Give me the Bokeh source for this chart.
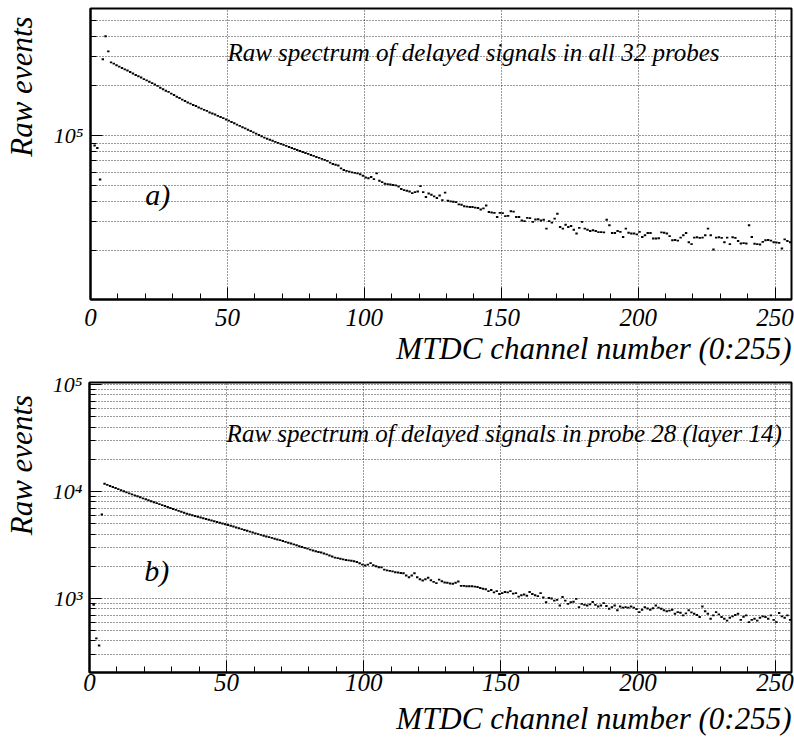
import math
from bokeh.plotting import figure
from bokeh.layouts import column, row
from bokeh.models import Range1d, FixedTicker, SingleIntervalTicker, Label, Title, ColumnDataSource
from bokeh.core.properties import value
from bokeh.embed import file_html
from bokeh.resources import INLINE

# ---------------- data ----------------
# panel a): all 32 probes, counts in thousands, channels 1..255
events_a_k = [
    87, 84, 54, 290, 400, 324, 278,                                   # 1-7
    273, 267, 262, 257, 252, 248, 243, 238, 233, 229, 225, 220, 216, 212, 208,  # 8-22
    204, 200, 195, 191, 187, 184, 179.5, 176, 172, 169, 165, 162, 158.5,        # 23-35
    156, 153, 151, 148, 145.5, 143, 141, 138, 136, 134, 131.5, 129.5, 127.4, 125, 123,  # 36-50
    120.8, 118.6, 116.4, 114.3, 112.2, 110.4, 108.4, 106.4, 104.5, 102.6, 100.7, 98.9, 97.1, 95.5,  # 51-64
    94.2, 92.9, 91.4, 90.2, 88.9, 87.7, 86.5, 85.1, 83.9, 82.8, 81.7, 80.5, 79.4, 78.3, 77.3, 76.2,
    75.2, 74.1, 73.1, 72.1, 71.1, 70.1,                                  # 65-86
    68.4, 67.1, 66.4, 65.8, 63.1, 61.7, 61.0, 60.3, 59.7, 59.3, 58.9, 58.2, 56.9, 55.6,  # 87-100
    55.0, 56.0, 54.3, 58.9, 53.1, 52.1, 50.9, 50.7, 50.4, 50.1, 49.8, 49.0, 47.3, 46.6, 46.2, 45.7, 44.7, 45.3, 45.7, 49.3,  # 101-120
    45.3, 42.3, 44.4, 43.7, 42.7, 41.7, 43.2, 40.4, 45.0, 40.2, 39.8, 39.6, 39.4, 38.2, 38.0, 37.2, 37.0, 36.8, 36.8, 36.5,  # 121-140
    36.3, 35.5, 36.1, 37.6, 34.3, 34.1, 33.9, 32.0, 33.9, 33.8, 32.4, 32.5, 34.7, 34.5, 32.0, 32.0, 30.5, 30.2, 31.6, 31.5,  # 141-160
    29.9, 30.9, 31.0, 30.5, 30.8, 27.2, 30.2, 29.6, 31.3, 33.5, 27.8, 27.2, 28.7, 27.8, 28.2, 26.8, 25.4, 27.5, 29.9, 27.2,  # 161-180
    26.8, 26.3, 26.6, 26.3, 25.9, 25.9, 25.8, 30.8, 28.5, 25.6, 25.6, 26.3, 26.0, 24.2, 27.2, 25.7, 25.4, 25.4, 25.1, 26.0,  # 181-200
    24.2, 24.8, 25.6, 25.6, 23.7, 23.7, 23.8, 25.8, 25.7, 25.4, 24.5, 23.1, 23.2, 23.0, 24.0, 24.8, 25.6, 22.5, 21.9, 24.0,  # 201-220
    24.1, 23.9, 24.0, 24.8, 27.2, 24.8, 20.3, 24.0, 24.1, 23.9, 22.5, 24.0, 21.9, 24.1, 23.9, 22.9, 22.1, 22.2, 22.1, 28.5,  # 221-240
    24.2, 22.0, 21.9, 21.8, 22.6, 23.1, 23.2, 23.0, 22.5, 22.4, 22.3, 20.6, 23.4, 22.9, 22.5,  # 241-255
]

# panel b): probe 28 (layer 14), counts, channels 1..255
events_b = [
    870, 423, 363, 6100, 11800,                                                            # 1-5
    11530, 11270, 11020, 10770, 10520, 10280, 10050, 9820, 9600, 9400, 9200, 9020, 8830, 8630, 8450,  # 6-20
    8280, 8110, 7940, 7780, 7620, 7460, 7310, 7160, 7010, 6870, 6730, 6590, 6460, 6320, 6190, 6100, 6000, 5900, 5810, 5710,  # 21-40
    5620, 5530, 5450, 5360, 5270, 5190, 5110, 5020, 4940, 4860, 4790, 4700, 4610, 4530, 4450, 4370, 4290, 4210, 4130, 4060,  # 41-60
    3990, 3930, 3860, 3800, 3740, 3680, 3620, 3560, 3510, 3440, 3380, 3320, 3260, 3200, 3140, 3080, 3030, 2970, 2920, 2860,  # 61-80
    2810, 2760, 2720, 2690, 2630, 2580, 2520, 2470, 2410, 2380, 2350, 2320, 2290, 2270, 2250, 2230, 2190, 2130, 2070, 2030,  # 81-100
    2070, 2140, 2040, 2000, 1960, 1950, 1860, 1830, 1810, 1790, 1760, 1750, 1730, 1720, 1640, 1580, 1640, 1720, 1580, 1510,  # 101-120
    1470, 1510, 1560, 1480, 1430, 1390, 1500, 1450, 1410, 1400, 1380, 1370, 1400, 1440, 1310, 1310, 1300, 1300, 1300, 1290,  # 121-140
    1280, 1250, 1230, 1220, 1170, 1200, 1140, 1170, 1100, 1120, 1150, 1140, 1170, 1110, 1120, 1040, 1070, 1090, 1060, 1150,  # 141-160
    1100, 1070, 1050, 1120, 1020, 920, 1010, 1000, 955, 970, 860, 1030, 955, 890, 920, 930, 990, 830, 890, 870,  # 161-180
    860, 880, 925, 870, 840, 860, 905, 850, 800, 830, 860, 775, 840, 820, 830, 820, 840, 820, 795, 745,  # 181-200
    785, 830, 805, 785, 810, 860, 820, 800, 775, 760, 770, 785, 720, 745, 735, 695, 725, 775, 740, 720,  # 201-220
    700, 670, 840, 760, 720, 645, 695, 745, 710, 670, 645, 620, 660, 680, 700, 720, 630, 675, 695, 600,  # 221-240
    630, 645, 620, 660, 680, 670, 645, 695, 630, 600, 730, 680, 660, 695, 630,  # 241-255
]

first_channel = 1

a_major = [1e5]
a_minor = [2e4, 3e4, 4e4, 5e4, 6e4, 7e4, 8e4, 9e4, 2e5, 3e5, 4e5, 5e5]
a_labels = {100000: "10\u2075"}

b_major = [1e3, 1e4, 1e5]
b_minor = [3e2, 4e2, 5e2, 6e2, 7e2, 8e2, 9e2,
           2e3, 3e3, 4e3, 5e3, 6e3, 7e3, 8e3, 9e3,
           2e4, 3e4, 4e4, 5e4, 6e4, 7e4, 8e4, 9e4]
b_labels = {1000: "10\u00b3", 10000: "10\u2074", 100000: "10\u2075"}

x_title = "MTDC channel number (0:255)"
y_title = "Raw events"
note_a = "Raw spectrum of delayed signals in all 32 probes"
note_b = "Raw spectrum of delayed signals in probe 28 (layer 14)"

FONT = "Liberation Serif"
GRID = "#111111"
SIDE_W = 48


def panel(height, b_left, b_top, b_bottom, y_lo, y_hi, major, minor, labels,
          counts, note, note_y, tag, tag_y, tick_standoff, title_standoff,
          note_x=50, tag_x=20):
    p = figure(width=794 - SIDE_W, height=height, x_range=Range1d(0, 256),
               y_range=Range1d(y_lo, y_hi),
               y_axis_type="log", output_backend="svg", toolbar_location=None,
               min_border_left=b_left, min_border_right=3,
               min_border_top=b_top, min_border_bottom=b_bottom)
    p.background_fill_color = "white"
    p.border_fill_color = "white"
    p.outline_line_color = "black"
    p.outline_line_width = 2

    p.xaxis.ticker = SingleIntervalTicker(interval=50, num_minor_ticks=5)
    p.yaxis.ticker = FixedTicker(ticks=major, minor_ticks=minor)
    p.yaxis.major_label_overrides = labels

    for ax in (p.xaxis, p.yaxis):
        ax.axis_line_width = 2
        ax.axis_line_color = "black"
        ax.major_tick_in = 12
        ax.major_tick_out = 0
        ax.minor_tick_in = 6
        ax.minor_tick_out = 0
        ax.major_tick_line_color = "black"
        ax.minor_tick_line_color = "black"
        ax.major_label_text_font = FONT
        ax.major_label_text_font_style = "italic"
        ax.major_label_text_color = "black"
    p.xaxis.major_label_text_font_size = "25px"
    p.yaxis.major_label_text_font_size = "22px"
    p.xaxis.major_label_standoff = tick_standoff
    p.yaxis.major_label_standoff = 7

    for g in (p.xgrid, p.ygrid):
        g.grid_line_color = GRID
        g.grid_line_dash = "1 2"
        g.grid_line_width = 1
        g.grid_line_alpha = 0.85
    p.ygrid.minor_grid_line_color = GRID
    p.ygrid.minor_grid_line_dash = "1 2"
    p.ygrid.minor_grid_line_alpha = 0.85

    ch = [first_channel + i + 0.5 for i in range(len(counts))]
    src = ColumnDataSource(dict(x=ch, y=counts))
    p.scatter("x", "y", source=src, marker="dash", size=2.4, line_width=1.9,
              line_color="black", fill_color="black")

    p.add_layout(Label(x=note_x, y=note_y, text=note, text_font=FONT, text_font_style="italic",
                       text_font_size="25px", text_baseline="alphabetic", text_color="black"))
    p.add_layout(Label(x=tag_x, y=tag_y, text=tag, text_font=FONT, text_font_style="italic",
                       text_font_size="30px", text_baseline="alphabetic", text_color="black"))

    p.add_layout(Title(text=x_title, align="right", text_font=FONT, text_font_style="italic",
                       text_font_size="31px", text_color="black", standoff=title_standoff), "below")
    return p


def side(height, top_gap):
    s = figure(width=SIDE_W, height=height, x_range=Range1d(0, SIDE_W), y_range=Range1d(0, height),
               x_axis_type=None, y_axis_type=None, output_backend="svg", toolbar_location=None,
               min_border=0)
    s.outline_line_color = None
    s.grid.visible = False
    s.text(x=[21], y=[height - top_gap], text=[y_title], angle=math.pi / 2,
           text_align="right", text_baseline="alphabetic", text_font=value(FONT),
           text_font_style="italic", text_font_size="31px", text_color="black")
    return s


H1, H2 = 367, 373
p1 = panel(H1, 90 - SIDE_W, 8, H1 - 299, 1.01e4, 5.9e5, a_major, a_minor, a_labels,
           [v * 1000 for v in events_a_k], note_a, 3.2e5, "a)", 4.36e4, 9, 0)
p2 = panel(H2, 89 - SIDE_W, 382 - H1, 740 - 672, 203, 1.045e5, b_major, b_minor, b_labels,
           events_b, note_b, 3.5e4, "b)", 1.81e3, 1, 10)

layout = column(row(side(H1, 10), p1, spacing=0), row(side(H2, 383 - H1), p2, spacing=0), spacing=0)
open("out.html", "w").write(file_html(layout, INLINE))
